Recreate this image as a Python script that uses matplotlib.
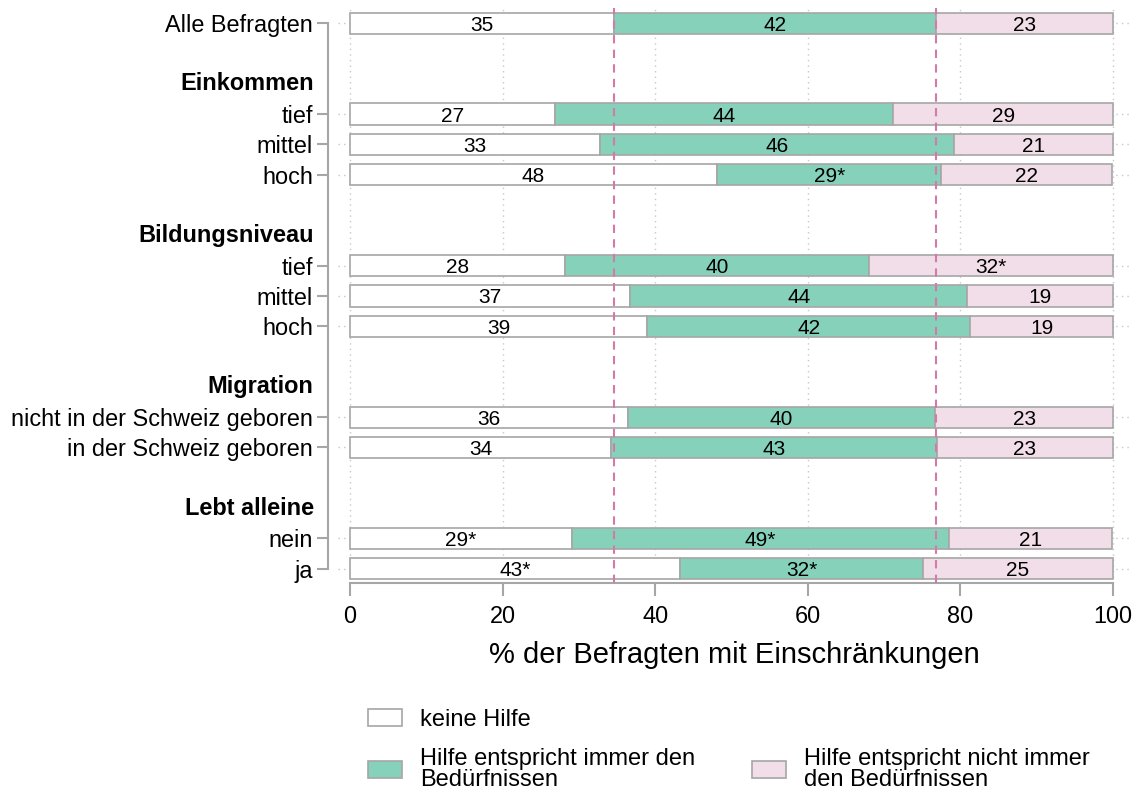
import matplotlib
matplotlib.use("Agg")
import matplotlib.pyplot as plt
from matplotlib.patches import Patch
from matplotlib.transforms import blended_transform_factory
import numpy as np

plt.rcParams['font.family'] = ['Liberation Sans', 'DejaVu Sans']

# ---- data -------------------------------------------------------------
row_labels = ["Alle Befragten",
              "tief", "mittel", "hoch",
              "tief", "mittel", "hoch",
              "nicht in der Schweiz geboren", "in der Schweiz geboren",
              "nein", "ja"]
row_slots = [0, 3, 4, 5, 8, 9, 10, 13, 14, 17, 18]

group_titles = ["Einkommen", "Bildungsniveau", "Migration", "Lebt alleine"]
group_slots = [2, 7, 12, 16]

keine_hilfe = [34.6, 26.9, 32.8, 48.1, 28.2, 36.7, 38.9, 36.4, 34.2, 29.1, 43.3]
immer = [42.2, 44.3, 46.4, 29.4, 39.8, 44.2, 42.4, 40.3, 42.7, 49.4, 31.8]
nicht_immer = [23.2, 28.8, 20.8, 22.4, 32.0, 19.1, 18.7, 23.3, 23.1, 21.4, 24.9]

# significance markers per row and segment
sig_keine = ["", "", "", "", "", "", "", "", "", "*", "*"]
sig_immer = ["", "", "", "*", "", "", "", "", "", "*", "*"]
sig_nicht = ["", "", "", "", "*", "", "", "", "", "", ""]

series_names = ["keine Hilfe",
                "Hilfe entspricht immer den\nBedürfnissen",
                "Hilfe entspricht nicht immer\nden Bedürfnissen"]
xticks = [0, 20, 40, 60, 80, 100]
xlabel = "% der Befragten mit Einschränkungen"

# ---- styling ------------------------------------------------------------
c_white = "#FFFFFF"
c_green = "#86D1BA"
c_pink = "#F2DEE8"
c_edge = "#A6A6A6"
c_ref = "#D27BA8"
c_grid = "#C8C8C8"

fig = plt.figure(figsize=(11.42, 7.89), dpi=100)
ax = fig.add_axes([0.2960, 0.2611, 0.6935, 0.7288])

y = np.array(row_slots, dtype=float)
kh = np.array(keine_hilfe)
im = np.array(immer)
ni = np.array(nicht_immer)
bar_h = 0.70

segments = [(kh, np.zeros_like(kh), c_white, sig_keine),
            (im, kh, c_green, sig_immer),
            (ni, kh + im, c_pink, sig_nicht)]

# grid first so bars cover it
for xv in xticks:
    ax.axvline(xv, color=c_grid, lw=1.0, ls=(0, (1, 3)), zorder=0)
for yv in y:
    ax.axhline(yv, color=c_grid, lw=1.0, ls=(0, (1, 3)), zorder=0)

handles = []
for (vals, left, col, sig), name in zip(segments, series_names):
    ax.barh(y, vals, left=left, height=bar_h, color=col,
            edgecolor=c_edge, linewidth=1.2, zorder=2)
    for yi, v, l, s in zip(y, vals, left, sig):
        ax.text(l + v / 2, yi, f"{v:.0f}{s}", ha="center",
                va="center_baseline", fontsize=15, color="black", zorder=4)
    handles.append(Patch(facecolor=col, edgecolor=c_edge, linewidth=1.2,
                         label=name))

# reference lines at the cumulative shares of all respondents
ax.axvline(kh[0], color=c_ref, lw=1.5, ls=(0, (4, 3)), zorder=3)
ax.axvline(kh[0] + im[0], color=c_ref, lw=1.5, ls=(0, (4, 3)), zorder=3)

ax.set_xlim(-1.57, 102.23)
ax.set_ylim(18.47, -0.5)

# axes styling
for side in ("top", "right"):
    ax.spines[side].set_visible(False)
ax.spines["left"].set_position(("outward", 7))
ax.spines["left"].set_bounds(0, 18)
ax.spines["bottom"].set_bounds(0, 100)
for side in ("left", "bottom"):
    ax.spines[side].set_color(c_edge)
    ax.spines[side].set_linewidth(1.5)

ax.set_yticks(y)
ax.set_yticklabels(row_labels, fontsize=16.9)
ax.set_xticks(xticks)
ax.set_xticklabels([str(t) for t in xticks], fontsize=16.9)
ax.tick_params(axis="y", length=8, width=1.5, color=c_edge, pad=3)
ax.tick_params(axis="x", length=9, width=1.5, color=c_edge, pad=7)
ax.set_xlabel(xlabel, fontsize=21, labelpad=9)

# bold group headings aligned with the tick labels
trans = blended_transform_factory(ax.transAxes, ax.transData)
for title, slot in zip(group_titles, group_slots):
    ax.annotate(title, xy=(0, slot), xycoords=trans,
                xytext=(-17.5, 0), textcoords="offset points",
                ha="right", va="center", fontsize=16.9, fontweight="bold")

# legend: first column holds the first two entries, second column the third
blank = Patch(facecolor="none", edgecolor="none", label=" ")
leg = fig.legend(handles=[handles[0], handles[1], blank, handles[2]],
                 ncol=2, loc="upper left", bbox_to_anchor=(0.3222, 0.1012),
                 frameon=False, fontsize=17, handlelength=1.44,
                 handleheight=0.72, handletextpad=0.76, columnspacing=2.4,
                 labelspacing=0.72, borderpad=0, borderaxespad=0)
for t in leg.get_texts():
    t.set_linespacing(0.92)

fig.savefig("out.png", dpi=100, facecolor="white")
